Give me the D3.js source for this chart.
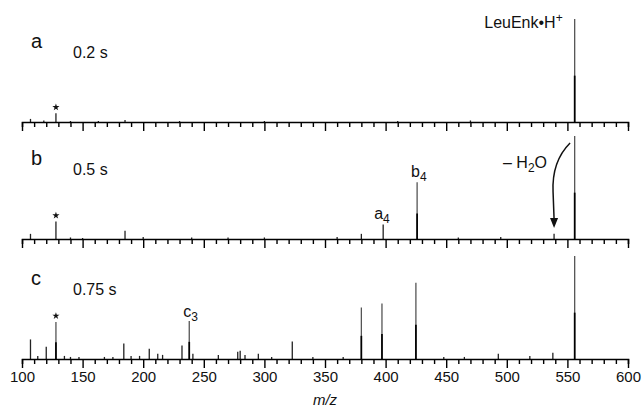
<!DOCTYPE html>
<html>
<head>
<meta charset="utf-8">
<script src="https://cdn.jsdelivr.net/npm/d3@7/dist/d3.min.js"></script>
<style>
  body { margin: 0; background: #fff; }
  svg text { font-family: "Liberation Sans", Arial, sans-serif; fill: #111; }
</style>
</head>
<body>
<div class="cont"></div>
<script>
var w = 642,
h = 411;

// peaks: [m/z, relative intensity %]
var peaksA = [[107, 3], [118, 1.5], [128, 8.5], [140, 1], [163, 1], [185, 2], [230, 1], [300, 1], [410, 1], [470, 1.5], [556, 100]];
var peaksB = [[107, 5], [128, 17], [140, 1.5], [150, 1], [185, 8], [200, 2], [240, 1.5], [270, 1.5], [300, 1.5], [360, 2], [380, 5], [398, 14], [426, 55], [460, 1.5], [495, 2], [539, 5], [556, 100]];
var peaksC = [[107, 19], [113, 3], [120, 12], [128, 36], [135, 3], [140, 2], [147, 2], [168, 2], [175, 2], [184, 15], [190, 3], [197, 3], [205, 10], [212, 5], [216, 4],
  [232, 13], [238, 37], [241, 5], [262, 4], [278, 7], [280, 8], [284, 4], [295, 5], [306, 2], [323, 17], [340, 2], [365, 2], [380, 50], [397, 54], [425, 74],
  [448, 2], [465, 2], [493, 5], [519, 3], [538, 6], [556, 100]];
var panelNames = ["a", "b", "c"];
var times = ["0.2 s", "0.5 s", "0.75 s"];
var tickMinor = d3.range(100, 601, 10);

var xScale = d3.scaleLinear().
domain([100, 600]).
range([22, 628]);

var bases = [122, 239, 359];

var svg = d3.select(".cont").append("svg").
attr("width", w).
attr("height", h);

var panels = [peaksA, peaksB, peaksC];

panels.forEach(function (peaks, i) {
  var base = bases[i];
  var yScale = d3.scaleLinear().domain([0, 100]).range([base, base - 103]);
  var g = svg.append("g");

  // peaks: grey sticks with dark base
  g.selectAll("line.pk").
  data(peaks).
  enter().append("line").
  attr("class", "pk").
  attr("x1", function (d) {return xScale(d[0]);}).
  attr("x2", function (d) {return xScale(d[0]);}).
  attr("y1", base).
  attr("y2", function (d) {return yScale(d[1]);}).
  attr("stroke", function (d) {return d[1] > 20 ? "#555" : "#222";}).
  attr("stroke-width", 1.3);

  g.selectAll("line.pkb").
  data(peaks.filter(function (d) {return d[1] > 20;})).
  enter().append("line").
  attr("class", "pkb").
  attr("x1", function (d) {return xScale(d[0]);}).
  attr("x2", function (d) {return xScale(d[0]);}).
  attr("y1", base).
  attr("y2", function (d) {return yScale(d[1] * 0.45);}).
  attr("stroke", "#000").
  attr("stroke-width", 1.7);

  // axis
  var axis = d3.axisBottom(xScale).
  tickValues(tickMinor).
  tickSizeOuter(0).
  tickSize(5).
  tickFormat(function (v) {return i == 2 && v % 50 == 0 ? v : "";});

  var ax = g.append("g").
  attr("transform", "translate(0," + base + ")").
  call(axis);
  ax.select(".domain").attr("stroke", "#000").attr("stroke-width", 1.6);
  ax.selectAll(".tick line").
  attr("stroke", "#000").
  attr("stroke-width", 1.4).
  attr("y2", function (v) {return v % 50 == 0 ? 9 : 5;});
  ax.selectAll(".tick text").
  attr("y", 12).
  style("font-size", "15px").
  style("font-family", "'Liberation Sans', Arial, sans-serif").
  attr("fill", "#111");

  // panel letter and time
  g.append("text").
  attr("x", 31).
  attr("y", base - 74).
  style("font-size", "20px").
  text(panelNames[i]);
  g.append("text").
  attr("x", 73).
  attr("y", base - 64).
  style("font-size", "16px").
  text(times[i]);

  // star on m/z 128
  var star = peaks.filter(function (d) {return d[0] == 128;})[0];
  g.append("path").
  attr("d", d3.symbol(d3.symbolStar, 16)()).
  attr("fill", "#111").
  attr("transform", "translate(" + xScale(star[0]) + "," + (yScale(star[1]) - 6) + ")");

  if (i == 0) {
    g.append("text").
    attr("x", xScale(556) - 12).
    attr("y", 28).
    attr("text-anchor", "end").
    style("font-size", "16px").
    html("LeuEnk\u2022H<tspan dy='-6' font-size='12'>+</tspan>");
  }
  if (i == 1) {
    g.append("text").
    attr("x", xScale(426) - 6).
    attr("y", yScale(55) - 5).
    style("font-size", "16px").
    html("b<tspan dy='4' font-size='12'>4</tspan>");
    g.append("text").
    attr("x", xScale(398) - 9).
    attr("y", yScale(14) - 6).
    style("font-size", "16px").
    html("a<tspan dy='4' font-size='12'>4</tspan>");
    g.append("text").
    attr("x", 503).
    attr("y", 168).
    style("font-size", "16px").
    html("\u2013 H<tspan dy='4' font-size='12'>2</tspan><tspan dy='-4'>O</tspan>");
    var tx = xScale(539);
    g.append("path").
    attr("d", "M" + (tx + 16) + ",143 C" + (tx + 4) + ",155 " + (tx - 2) + ",170 " + (tx - 1) + ",192 L" + tx + ",219").
    attr("fill", "none").
    attr("stroke", "#111").
    attr("stroke-width", 1.5);
    g.append("path").
    attr("d", "M" + (tx - 4) + ",218 L" + (tx + 4) + ",218 L" + tx + ",228 Z").
    attr("fill", "#111");
  }
  if (i == 2) {
    g.append("text").
    attr("x", xScale(238) - 6).
    attr("y", yScale(37) - 4).
    style("font-size", "16px").
    html("c<tspan dy='4' font-size='12'>3</tspan>");
    g.append("text").
    attr("x", xScale(350)).
    attr("y", 405).
    attr("text-anchor", "middle").
    style("font-size", "15px").
    style("font-style", "italic").
    text("m/z");
  }
});
</script>
</body>
</html>
